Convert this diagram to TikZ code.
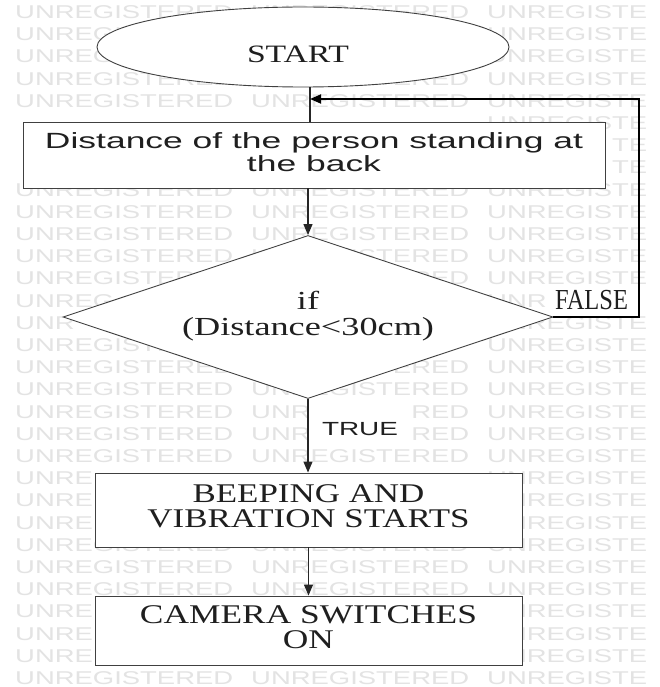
\documentclass[tikz,border=0pt]{standalone}
\usepackage{graphicx}
\usepackage{fontspec}
\setmainfont{Liberation Serif}
\setsansfont{Liberation Sans}
\usetikzlibrary{shapes.geometric,arrows.meta}
% centred lines of text, stretched to a given width at their natural height
\newcommand\fitline[2]{\resizebox{#1}{\height}{\begin{tabular}{@{}c@{}}#2\end{tabular}}}
% one piece of the faint background lettering
\newcommand\wmtext[1]{\scalebox{1.483}[1]{#1}}

\begin{document}
\begin{tikzpicture}[x=1pt,y=-1pt,
  box/.style={draw=black!75, line width=0.9pt, fill=white, inner sep=0pt, text=black!88},
  link/.style={draw=black!85, line width=1.2pt},
  arr/.style={link, -{Triangle[length=11pt,width=9pt]}},
  back/.style={draw=black, line width=1.8pt, -{Triangle[length=11pt,width=9pt]}},
  serif/.style={font=\fontsize{27}{24}\selectfont},
  sans/.style={font=\sffamily\fontsize{22}{23}\selectfont},
  lbl/.style={inner sep=2pt, anchor=base, text=black!88, fill=white},
  wmark/.style={font=\sffamily\fontsize{18.5}{20}\selectfont, text=black!11,
    inner sep=0pt, anchor=base west}
]
\useasboundingbox (0,0) rectangle (659,687);
\fill[white] (0,0) rectangle (659,687);

% background lettering: complete rows
\foreach \r in {0,3,4,8,9,10,11,12,16,17,20,24,25,26,30}{
  \node[wmark] (wm-\r-a) at (15,{18.5+22.2*\r})  {\wmtext{UNREGISTERED}};
  \node[wmark] (wm-\r-b) at (251,{18.5+22.2*\r}) {\wmtext{UNREGISTERED}};
  \node[wmark] (wm-\r-c) at (487,{18.5+22.2*\r}) {\wmtext{UNREGISTE}};
}
% background lettering: rows partly hidden behind the blocks and labels
\foreach \r/\x/\s [count=\k] in {
  1/15/UNREGISTERED, 1/487/UNREGISTE,
  2/15/UNREGISTERED, 2/487/UNREGISTE,
  5/487/UNREGISTE,
  6/612/TE, 7/612/TE,
  13/15/UNREG, 13/487/UNR,
  14/15/UNR, 14/487/UNREGISTE,
  15/15/UNREGISTE, 15/487/UNREGISTE,
  18/15/UNREGISTERED, 18/251/UNR, 18/411.1/RED, 18/487/UNREGISTE,
  19/15/UNREGISTERED, 19/251/UNR, 19/411.1/RED, 19/487/UNREGISTE,
  21/15/UNRE, 21/487/UNREGISTE,
  22/15/UNRE, 22/487/UNREGISTE,
  23/15/UNRE, 23/487/UNREGISTE,
  27/15/UNRE, 27/487/UNREGISTE,
  28/15/UNRE, 28/487/UNREGISTE,
  29/15/UNRE, 29/487/UNREGISTE}{
  \node[wmark] (wp-\k) at (\x,{18.5+22.2*\r}) {\wmtext{\s}};
}

% flowchart blocks
\node[box, ellipse, minimum width=412pt, minimum height=80pt] (start) at (303,47) {};
\node[serif, box, draw=none, fill=none, font=\fontsize{25}{24}\selectfont] (starttxt) at (298,58)
  {\fitline{102pt}{START}};

\node[box, sans, minimum width=582pt, minimum height=66pt] (r1) at (314,155)
  {\fitline{538pt}{Distance of the person standing at\\the back}};

\node[box, diamond, aspect=3, minimum width=490pt, minimum height=163pt,
      font=\fontsize{26}{25}\selectfont] (dia) at (308,317)
  {\fitline{252pt}{if\\(Distance<30cm)}};

\node[box, serif, minimum width=427pt, minimum height=74pt] (r2) at (308.5,510)
  {\fitline{322pt}{BEEPING AND\\VIBRATION STARTS}};

\node[box, serif, minimum width=427pt, minimum height=69pt] (r3) at (308.5,630.5)
  {\fitline{337pt}{CAMERA SWITCHES\\ON}};

% connectors
\coordinate (spine) at (310,0);
\coordinate (fbtop) at (639,99);
\coordinate (join) at (spine |- fbtop);

\draw[link] (start.south -| spine) -- (r1.north -| spine);
\draw[arr] (r1.south -| dia.north) -- (dia.north);
\draw[arr] (dia.south) -- (dia.south |- r2.north);
\draw[arr] (r2.south) -- (r3.north);
\draw[back] (dia.east) -| (fbtop) -- (join);

% branch labels
\node[lbl, font=\fontsize{29}{29}\selectfont] (false) at (591.5,309)
  {\resizebox{73pt}{\height}{FALSE}};
\node[lbl, font=\sffamily\fontsize{19}{19}\selectfont] (true) at (360,435)
  {\resizebox{76pt}{\height}{TRUE}};
\end{tikzpicture}
\end{document}
